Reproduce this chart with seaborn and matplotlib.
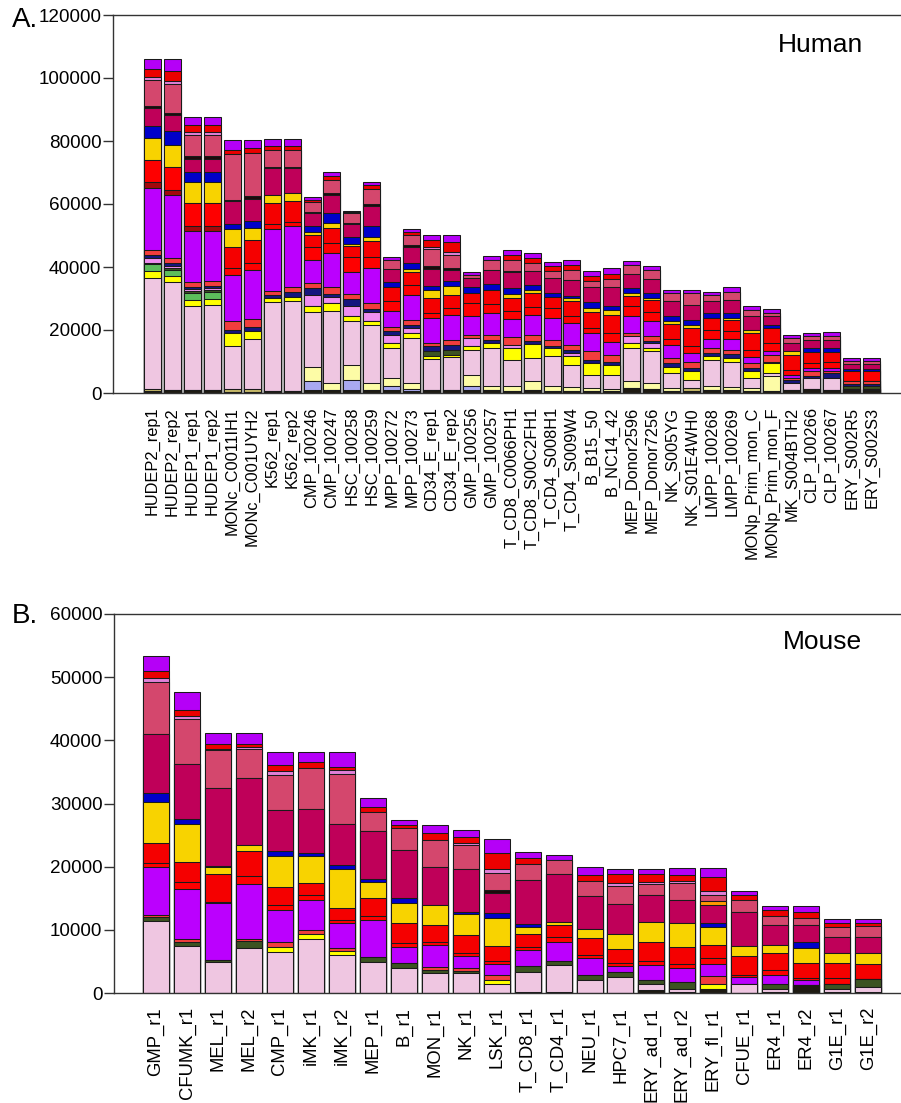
import numpy as np
import pandas as pd
import matplotlib
matplotlib.use("Agg")
import matplotlib.pyplot as plt
import seaborn as sns

# ---------------------------------------------------------------------------
# Samples
# ---------------------------------------------------------------------------
human_samples = [
    "HUDEP2_rep1", "HUDEP2_rep2", "HUDEP1_rep1", "HUDEP1_rep2",
    "MONc_C0011IH1", "MONc_C001UYH2", "K562_rep1", "K562_rep2",
    "CMP_100246", "CMP_100247", "HSC_100258", "HSC_100259",
    "MPP_100272", "MPP_100273", "CD34_E_rep1", "CD34_E_rep2",
    "GMP_100256", "GMP_100257", "T_CD8_C0066PH1", "T_CD8_S00C2FH1",
    "T_CD4_S008H1", "T_CD4_S009W4", "B_B15_50", "B_NC14_42",
    "MEP_Donor2596", "MEP_Donor7256", "NK_S005YG", "NK_S01E4WH0",
    "LMPP_100268", "LMPP_100269", "MONp_Prim_mon_C", "MONp_Prim_mon_F",
    "MK_S004BTH2", "CLP_100266", "CLP_100267", "ERY_S002R5", "ERY_S002S3",
]
mouse_samples = [
    "GMP_r1", "CFUMK_r1", "MEL_r1", "MEL_r2", "CMP_r1", "iMK_r1", "iMK_r2",
    "MEP_r1", "B_r1", "MON_r1", "NK_r1", "LSK_r1", "T_CD8_r1", "T_CD4_r1",
    "NEU_r1", "HPC7_r1", "ERY_ad_r1", "ERY_ad_r2", "ERY_fl_r1", "CFUE_r1",
    "ER4_r1", "ER4_r2", "G1E_r1", "G1E_r2",
]

# ---------------------------------------------------------------------------
# States, stacked from bottom to top
# ---------------------------------------------------------------------------
state_names = [
    "base", "lavender", "tan", "pale_yellow", "light_pink", "yellow", "green",
    "olive", "orchid", "navy", "tomato", "purple", "dark_red", "red", "red2",
    "gold", "blue", "crimson", "orange", "black", "rose", "orchid2",
    "red_top", "purple_top",
]
state_colors = [
    "#1e1a12", "#a9a9f0", "#c8bb6a", "#fdfca6", "#efc6e1", "#ffff00", "#5cbd5c",
    "#3c5322", "#ef8ff0", "#15157e", "#f23d3d", "#bb00fe", "#a3080c", "#fe0000",
    "#f50000", "#f8d300", "#0000c9", "#bf0059", "#ff9a00", "#200a0c", "#d4476d",
    "#e07fd7", "#ec0000", "#b500f7",
]

# ---------------------------------------------------------------------------
# Human segment heights (thousands)
# ---------------------------------------------------------------------------
h_base = [0.5, 0.8, 0.8, 0.8, 0.3, 0.3, 0.5, 0.5, 1.1, 0.8, 1.1, 1.1, 0.8, 0.5, 0.8, 1.1, 0.8, 0.8, 0.5,
          1.1, 0.5, 0.5, 0.5, 0.5, 1.6, 1.3, 0.5, 0.5, 0.8, 0.8, 0.5, 0.5, 1.1, 1.3, 1.1, 0.8, 0.8]
h_lavender = [0, 0, 0, 0, 0, 0, 0, 0, 2.6, 0, 3.1, 0, 1.3, 0.8, 0, 0, 1.3, 0, 0,
              0, 0, 0, 0, 0, 0, 0, 0, 0, 0, 0, 0, 0, 0, 0, 0, 0, 0]
h_tan = [0.7, 0, 0, 0, 1.0, 1.0, 0, 0, 0, 0, 0, 0, 0, 0, 0, 0, 0, 0, 0,
         0, 0, 0, 0, 0, 0, 0, 0, 1.1, 0, 0, 0, 0, 0, 0, 0, 0.5, 0.5]
h_pale_yellow = [0, 0, 0, 0, 0, 0, 0, 0, 4.4, 2.4, 4.8, 2.1, 2.7, 1.9, 0, 0, 3.5, 1.3, 1.6,
                 2.6, 1.6, 1.4, 1.1, 0.8, 2.1, 1.9, 1.1, 0, 1.3, 1.1, 1.1, 4.8, 0, 0, 0, 0, 0]
h_light_pink = [35.3, 34.3, 26.9, 27.2, 13.7, 15.8, 28.3, 28.8, 17.6, 22.7, 13.7, 18.3, 9.5, 14.2, 10.0, 10.3,
                8.1, 12.2, 8.5, 7.4, 9.5, 7.1, 4.2, 4.5, 10.6, 10.0, 4.7, 2.6, 8.5, 8.1, 3.2, 1.0, 2.1,
                3.5, 3.7, 0, 0]
h_yellow = [2.1, 1.9, 1.9, 1.9, 4.0, 2.5, 1.3, 1.3, 2.0, 2.6, 1.6, 1.5, 1.6, 1.6, 1.0, 0.8, 1.1, 1.6, 3.7,
            4.3, 2.7, 2.8, 3.7, 3.2, 1.6, 1.1, 2.1, 2.7, 1.2, 1.1, 2.1, 3.2, 0, 0, 0, 0, 0]
h_green = [2.3, 2.1, 2.1, 2.1, 0, 0, 0, 0, 0, 0, 0, 0, 0, 0, 0, 0, 0, 0, 0,
           0, 0, 0, 0, 0, 0, 0, 0, 0, 0, 0, 0, 0, 0, 0, 0, 0, 0]
h_olive = [0.3, 0.6, 0.6, 0.6, 0, 0, 0, 0, 0, 0, 0, 0, 0, 0, 1.5, 1.6, 0, 0, 0,
           0, 0, 0, 0, 0, 0, 0, 0, 0, 0, 0, 0, 0, 0, 0, 0, 1.0, 1.0]
h_orchid = [1.6, 0.7, 0.7, 0.7, 0, 0, 0, 0, 3.5, 2.0, 3.4, 2.8, 2.6, 1.6, 0, 0, 2.6, 0, 1.0,
            0, 0, 1.0, 0, 0, 2.1, 1.5, 0, 0, 0, 0, 0, 0, 0, 0, 0, 0, 0]
h_navy = [1.1, 0.8, 0.6, 0.6, 1.1, 1.5, 1.1, 1.4, 2.1, 1.0, 2.1, 0.8, 1.1, 1.1, 1.5, 1.5, 0, 1.0, 0,
          1.0, 0.7, 0.9, 1.1, 1.0, 0, 0.6, 1.1, 1.0, 0.9, 1.4, 1.0, 0.5, 1.0, 0.6, 1.5, 0.6, 0.6]
h_tomato = [1.6, 1.6, 1.5, 1.5, 2.6, 2.4, 1.3, 1.8, 1.6, 2.3, 1.7, 1.9, 1.5, 1.6, 1.1, 1.6, 1.1, 1.6, 2.5,
            2.1, 1.9, 1.6, 2.6, 2.1, 1.0, 1.6, 1.6, 1.8, 1.6, 1.2, 1.6, 2.2, 0.6, 1.5, 0.8, 0.8, 0.8]
h_purple = [19.5, 20.1, 16.4, 16.1, 14.8, 15.4, 19.5, 19.1, 7.4, 10.6, 6.8, 11.1, 4.8, 7.9, 7.9, 7.9, 5.8,
            6.9, 5.7, 6.3, 6.9, 6.9, 5.8, 4.0, 5.3, 4.7, 4.2, 3.0, 2.8, 3.4, 1.9, 1.0, 1.0, 1.0, 0.8, 0, 0]
h_dark_red = [2.1, 1.6, 1.4, 1.4, 0, 0, 0, 0, 0, 0, 0, 0, 0, 0, 0, 0, 0, 0, 0,
              0, 0, 0, 0, 0, 0, 0, 0, 0, 0, 0, 0, 0, 0, 0, 0, 0, 0]
h_red = [6.9, 7.4, 7.4, 7.4, 2.1, 2.3, 1.7, 1.5, 4.2, 3.2, 4.8, 3.5, 3.2, 3.2, 1.6, 2.2, 4.2, 2.9, 2.4,
         2.5, 3.2, 2.3, 1.6, 2.9, 3.2, 2.9, 1.8, 2.3, 3.0, 2.5, 2.3, 2.7, 1.6, 1.6, 1.8, 3.2, 3.4]
h_red2 = [0, 0, 0, 0, 6.9, 7.4, 6.6, 6.6, 3.7, 4.9, 3.5, 5.0, 4.4, 3.9, 4.7, 4.2, 3.4, 4.5, 4.4,
          4.4, 3.6, 4.6, 5.1, 5.8, 3.4, 4.0, 4.9, 5.6, 3.7, 3.5, 5.3, 4.7, 4.8, 3.4, 3.2, 0, 0]
h_gold = [6.9, 6.9, 6.8, 6.8, 5.5, 3.9, 2.6, 2.6, 0.9, 1.6, 0.7, 1.4, 0, 1.0, 2.5, 2.9, 0, 0, 1.2,
          1.1, 0, 1.0, 1.3, 1.4, 0.8, 0.5, 1.0, 1.1, 0, 0.7, 1.1, 0, 1.0, 0, 0, 0, 0]
h_blue = [3.9, 4.4, 3.0, 3.0, 1.6, 2.2, 0, 0, 2.0, 3.2, 2.1, 3.4, 1.6, 1.9, 1.4, 1.3, 1.7, 1.9, 1.8,
          1.6, 1.1, 0.8, 1.8, 1.5, 1.6, 1.6, 1.3, 1.6, 1.6, 1.6, 0, 1.1, 0, 1.4, 1.4, 0.7, 0.5]
h_crimson = [5.6, 5.1, 4.2, 4.2, 7.2, 7.0, 8.4, 7.7, 4.0, 5.6, 4.4, 6.5, 4.2, 5.3, 5.4, 3.5, 2.9, 4.4, 5.0,
             4.2, 4.8, 5.0, 4.8, 5.9, 4.5, 4.5, 4.8, 4.7, 3.7, 4.2, 4.2, 2.6, 2.7, 2.6, 2.6, 1.7, 1.7]
h_black = [0.7, 0.5, 0.8, 0.8, 0.5, 0.7, 0.6, 0.6, 0.5, 0.5, 0.3, 0.5, 0, 0.5, 0.8, 0.7, 0, 0, 0.5,
           0, 0, 0, 0, 0, 0, 0, 0, 0, 0, 0, 0, 0, 0, 0, 0, 0, 0]
h_rose = [8.3, 9.4, 6.9, 6.9, 14.6, 13.7, 5.3, 5.1, 3.0, 4.3, 2.9, 4.8, 3.0, 3.3, 5.5, 4.2, 1.0, 3.2, 3.3,
          2.6, 2.1, 3.0, 2.1, 2.6, 2.9, 2.7, 2.6, 3.7, 2.0, 2.6, 2.1, 1.1, 1.5, 1.1, 1.3, 0.9, 0.9]
h_orchid2 = [0.8, 1.0, 1.0, 1.0, 0, 0, 0, 0, 0, 0, 0, 0, 0, 0, 0.8, 1.1, 0, 0, 0,
             0, 0, 0, 0, 0, 0, 0, 0, 0, 0, 0, 0, 0, 0, 0, 0, 0, 0]
h_red_top = [2.5, 3.0, 2.1, 2.1, 1.3, 1.6, 1.3, 1.5, 0.7, 1.3, 0.4, 1.2, 0, 0.8, 2.1, 2.9, 0, 0, 1.8,
             1.6, 1.6, 1.8, 1.3, 1.6, 0, 0, 0, 0, 0, 0, 0, 0, 0, 0, 0, 0, 0]
h_purple_top = [3.2, 3.7, 2.4, 2.4, 3.1, 2.6, 2.0, 2.0, 0.9, 1.1, 0.5, 1.2, 0.8, 0.9, 1.5, 2.3, 1.0, 1.3, 1.6,
                1.6, 1.3, 1.6, 1.8, 1.8, 1.1, 1.3, 0.9, 0.9, 1.1, 1.4, 1.1, 1.2, 1.1, 1.0, 1.1, 0.9, 0.9]

# ---------------------------------------------------------------------------
# Mouse segment heights (thousands)
# ---------------------------------------------------------------------------
m_base = [0, 0, 0, 0, 0, 0, 0, 0, 0, 0, 0, 0, 0.2, 0.2, 0, 0, 0.5, 0.2, 0.6, 0, 0.1, 1.3, 0.1, 0.2]
m_light_pink = [11.4, 7.4, 4.9, 7.2, 6.5, 8.5, 6.0, 4.9, 3.9, 3.1, 3.1, 1.5, 3.2, 4.2, 2.1, 2.6, 1.0, 0.5,
                0, 1.5, 0.6, 0, 0.6, 0.8]
m_yellow = [0, 0, 0, 0, 0.8, 0.9, 0.6, 0, 0, 0, 0, 0.6, 0, 0, 0, 0, 0, 0, 0.9, 0, 0, 0, 0, 0]
m_olive = [0.6, 0.7, 0.4, 1.0, 0, 0, 0, 0.8, 0.9, 0.6, 0.4, 0, 0.8, 0.7, 0.7, 0.8, 0.6, 1.1, 0, 0, 0.8, 0,
           0.8, 1.2]
m_tomato = [0.4, 0.5, 0, 0.4, 0.7, 0.6, 0.5, 0, 0, 0.4, 0.4, 0.7, 0, 0, 0, 0, 0, 0, 1.2, 0, 0, 0, 0, 0]
m_purple = [7.5, 7.8, 8.9, 8.7, 5.1, 4.8, 4.0, 5.8, 2.5, 3.5, 2.0, 1.8, 2.6, 3.0, 2.7, 0.8, 2.3, 2.1, 1.9,
            1.0, 1.3, 0.7, 0, 0]
m_red = [0.7, 1.2, 0.2, 1.2, 0.8, 0.7, 0.5, 0.7, 0.6, 0.5, 0.4, 0.5, 0.5, 0.8, 0.5, 0.6, 0.6, 0.7, 0.9,
         0.3, 0.8, 0.3, 0.8, 0]
m_red2 = [3.1, 3.2, 4.5, 4.0, 2.9, 1.9, 1.9, 2.8, 3.2, 2.7, 2.9, 2.3, 2.1, 1.9, 2.7, 2.1, 3.1, 2.7, 2.1,
          3.1, 2.8, 2.4, 2.5, 2.4]
m_gold = [6.6, 5.9, 1.0, 0.9, 4.9, 4.3, 6.2, 2.5, 3.2, 3.1, 3.3, 4.4, 1.1, 0.5, 1.5, 2.5, 3.2, 3.8, 2.9,
          1.5, 1.2, 2.4, 1.6, 1.8]
m_blue = [1.3, 0.8, 0.2, 0, 0.8, 0.5, 0.6, 0.6, 0.7, 0, 0.4, 0.8, 0.5, 0, 0, 0, 0, 0, 0.6, 0, 0, 0.9, 0, 0]
m_crimson = [9.4, 8.7, 12.3, 10.7, 6.5, 6.9, 6.4, 7.6, 7.7, 6.1, 6.8, 3.2, 6.9, 7.6, 5.1, 4.7, 4.2, 3.7,
             2.8, 5.5, 3.2, 2.8, 2.4, 2.4]
m_orange = [0, 0, 0, 0, 0, 0, 0, 0, 0, 0, 0, 0, 0, 0, 0, 0, 0, 0, 0.7, 0, 0, 0, 0, 0]
m_black = [0, 0, 0, 0, 0, 0, 0, 0, 0, 0, 0, 0.5, 0, 0, 0, 0, 0, 0, 0, 0, 0, 0, 0, 0]
m_rose = [8.2, 7.1, 6.0, 4.5, 5.5, 6.5, 8.0, 3.0, 3.4, 4.3, 3.7, 2.7, 2.6, 2.2, 2.5, 2.9, 1.7, 2.6, 0.9,
          1.9, 1.4, 1.0, 1.6, 1.8]
m_orchid2 = [0.6, 0.6, 0.3, 0.3, 0.6, 0, 0.6, 0, 0, 0, 0.4, 0.7, 0, 0, 0, 0.4, 0.4, 0.4, 0.7, 0, 0, 0, 0, 0]
m_red_top = [1.2, 0.9, 0.7, 0.5, 1.0, 0.9, 0.5, 0.8, 0.5, 1.0, 0.9, 2.4, 0.8, 0, 0.9, 1.4, 1.2, 0.9, 2.1,
             0.7, 1.0, 1.1, 0.7, 0.5]
m_purple_top = [2.4, 2.9, 1.7, 1.7, 2.1, 1.6, 2.3, 1.3, 0.8, 1.3, 1.1, 2.3, 1.1, 0.7, 1.2, 0.9, 0.9, 1.1,
                1.5, 0.7, 0.6, 0.9, 0.6, 0.6]

human_layers = {
    "base": h_base, "lavender": h_lavender, "tan": h_tan, "pale_yellow": h_pale_yellow,
    "light_pink": h_light_pink, "yellow": h_yellow, "green": h_green, "olive": h_olive,
    "orchid": h_orchid, "navy": h_navy, "tomato": h_tomato, "purple": h_purple,
    "dark_red": h_dark_red, "red": h_red, "red2": h_red2, "gold": h_gold, "blue": h_blue,
    "crimson": h_crimson, "black": h_black, "rose": h_rose, "orchid2": h_orchid2,
    "red_top": h_red_top, "purple_top": h_purple_top,
}
mouse_layers = {
    "base": m_base, "light_pink": m_light_pink, "yellow": m_yellow, "olive": m_olive,
    "tomato": m_tomato, "purple": m_purple, "red": m_red, "red2": m_red2, "gold": m_gold,
    "blue": m_blue, "crimson": m_crimson, "orange": m_orange, "black": m_black,
    "rose": m_rose, "orchid2": m_orchid2, "red_top": m_red_top, "purple_top": m_purple_top,
}

# ---------------------------------------------------------------------------
# Style
# ---------------------------------------------------------------------------
sns.set_theme(style="ticks")
plt.rcParams["font.family"] = ["Liberation Sans", "DejaVu Sans"]
plt.rcParams["text.color"] = "black"
plt.rcParams["xtick.color"] = "#333333"
plt.rcParams["ytick.color"] = "#333333"
plt.rcParams["xtick.labelcolor"] = "black"
plt.rcParams["ytick.labelcolor"] = "black"
plt.rcParams["axes.linewidth"] = 1.0
plt.rcParams["axes.edgecolor"] = "#333333"

EDGE = "#1a1a1a"


def stacked_bars(ax, samples, layers, width):
    n = len(samples)
    heights = np.array([np.asarray(layers.get(name, [0] * n), float) * 1000
                        for name in state_names])
    tops = np.cumsum(heights, axis=0)
    # draw the cumulative totals from the top state down so each state shows
    for k in range(len(state_names) - 1, -1, -1):
        if heights[k].sum() == 0:
            continue
        df = pd.DataFrame({"sample": samples, "value": tops[k]})
        sns.barplot(data=df, x="sample", y="value", order=samples,
                    color=state_colors[k], saturation=1, width=width,
                    edgecolor=EDGE, linewidth=0.75, errorbar=None, ax=ax)


def style_axis(ax, samples, ymax, step, xlim, label_size):
    ax.set_xlim(*xlim)
    ax.set_ylim(0, ymax)
    ticks = np.arange(0, ymax + 1, step)
    ax.set_yticks(ticks)
    ax.set_yticklabels([f"{int(t)}" for t in ticks], fontsize=13.6)
    ax.set_xticks(range(len(samples)))
    ax.set_xticklabels(samples, rotation=90, fontsize=label_size)
    ax.tick_params(axis="x", length=0, pad=10)
    ax.tick_params(axis="y", length=7.5, width=1.0, pad=0.8)
    ax.set_xlabel("")
    ax.set_ylabel("")
    ax.spines["right"].set_visible(False)
    ax.spines["top"].set_visible(True)
    for s in ("left", "bottom", "top"):
        ax.spines[s].set_color("#333333")
        ax.spines[s].set_linewidth(1.0)


fig = plt.figure(figsize=(9.01, 11.03), dpi=100)
ax_h = fig.add_axes([113 / 901, 710 / 1103, 788 / 901, 378 / 1103])
ax_m = fig.add_axes([114 / 901, 110 / 1103, 787 / 901, 379 / 1103])

stacked_bars(ax_h, human_samples, human_layers, width=0.85)
style_axis(ax_h, human_samples, 120000, 20000, (-1.95, 37.45), 11.8)
ax_h.text(0.898, 0.92, "Human", transform=ax_h.transAxes, ha="center",
          va="center", fontsize=19)

stacked_bars(ax_m, mouse_samples, mouse_layers, width=0.84)
style_axis(ax_m, mouse_samples, 60000, 10000, (-1.357, 24.06), 13.3)
ax_m.text(0.90, 0.926, "Mouse", transform=ax_m.transAxes, ha="center",
          va="center", fontsize=19)

fig.text(12 / 901, 1 - 27 / 1103, "A.", fontsize=20, va="baseline", ha="left")
fig.text(12 / 901, 1 - 623 / 1103, "B.", fontsize=20, va="baseline", ha="left")

fig.savefig("out.png", dpi=100)
